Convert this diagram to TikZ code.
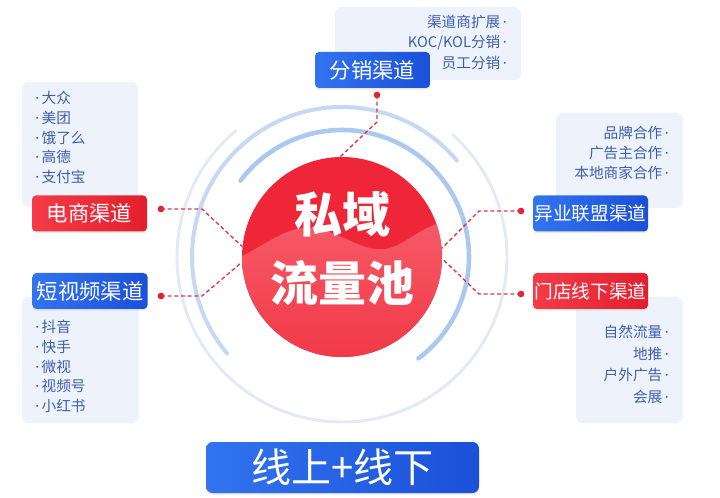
\documentclass[tikz,border=0pt]{standalone}
\usepackage{fontspec}
\setmainfont{Noto Sans CJK SC}
\newfontfamily\dotfont{Noto Sans}
\newcommand{\dt}{{\dotfont\char"00B7}}
\usetikzlibrary{shadows}
\definecolor{panelc}{HTML}{EDF2FB}
\definecolor{itemc}{HTML}{3F5FAE}
\definecolor{bluea}{HTML}{3274EF}
\definecolor{blueb}{HTML}{1B50D8}
\definecolor{reda}{HTML}{F43B48}
\definecolor{redb}{HTML}{E31F2D}
\definecolor{dotred}{HTML}{E0202E}
\definecolor{linered}{HTML}{D93A48}
\definecolor{ringa}{HTML}{E2EAF8}
\definecolor{ringb}{HTML}{C6D9F4}
\definecolor{ringc}{HTML}{ABC8EF}
\definecolor{circa}{HTML}{EF2638}
\definecolor{circb}{HTML}{F65A67}
\definecolor{circc}{HTML}{F13545}
\begin{document}
\begin{tikzpicture}[x=0.75pt,y=-0.75pt,
 boxbase/.style={rounded corners=3pt, minimum width=86.25pt, minimum height=27pt, inner sep=0pt, text=white, drop shadow={opacity=0.18, shadow xshift=0pt, shadow yshift=-1.2pt}},
 bluebox/.style={boxbase, left color=bluea, right color=blueb},
 redbox/.style={boxbase, left color=reda, right color=redb},
 lbl/.style={font=\fontsize{16}{18}\selectfont},
 lbls/.style={font=\fontsize{14}{16}\selectfont},
 item/.style={inner sep=0pt, text=itemc, font=\fontsize{11}{13}\selectfont},
 panel/.style={fill=panelc, rounded corners=5pt},
 conn/.style={draw=linered, line width=1pt, dash pattern=on 3pt off 2pt},
 rdot/.style={circle, fill=dotred, inner sep=0pt, minimum size=5pt},
 ring/.style={line cap=round},
]
\useasboundingbox (0,0) rectangle (720,498);
\fill[white] (0,0) rectangle (720,498);

% rings
\coordinate (o) at (342,257);
\draw[ring, draw=ringa, line width=2.2pt] (o) ++(130:123.75pt) arc[start angle=130, end angle=408, radius=123.75pt];
\draw[ring, draw=ringb, line width=3pt] (o) ++(40:112.5pt) arc[start angle=40, end angle=220, radius=112.5pt];
\draw[ring, draw=ringc, line width=3.4pt] (o) ++(-53:95.25pt) arc[start angle=-53, end angle=143, radius=95.25pt];

% central circle
\node[circle, minimum size=150pt, inner sep=0pt, fill=circa] (c) at (o) {};
\begin{scope}
\clip (o) circle[radius=75pt];
\shade[top color=circb, bottom color=circc]
  (230,262) .. controls (262,248) and (285,226) .. (310,228)
  .. controls (340,230) and (360,252) .. (385,249)
  .. controls (405,246) and (420,226) .. (450,220)
  -- (450,372) -- (230,372) -- cycle;
\end{scope}
\node[text=white, font=\fontsize{36}{40}\selectfont\bfseries] (t1) at (342,214) {私域};
\node[text=white, font=\fontsize{36}{40}\selectfont\bfseries] (t2) at (342,283) {流量池};

% panels
\fill[panel] (335,7) rectangle (521,80);
\fill[panel] (22,82) rectangle (138,207);
\fill[panel] (22,297) rectangle (139,423);
\fill[panel] (556,113) rectangle (683,208);
\fill[panel] (576,297) rectangle (683,423);

% items
\foreach \t [count=\i] in {渠道商扩展, KOC/KOL分销, 员工分销}
  \node[item, anchor=east] (fx\i) at (507, 22+20.5*\i-20.5) {\t\,\dt};
\foreach \t [count=\i] in {大众, 美团, 饿了么, 高德, 支付宝}
  \node[item, anchor=west] (ds\i) at (35, 98+19.8*\i-19.8) {\dt\,\t};
\foreach \t [count=\i] in {抖音, 快手, 微视, 视频号, 小红书}
  \node[item, anchor=west] (dsp\i) at (35, 327+19.8*\i-19.8) {\dt\,\t};
\foreach \t [count=\i] in {品牌合作, 广告主合作, 本地商家合作}
  \node[item, anchor=east] (yy\i) at (669, 133+20*\i-20) {\t\,\dt};
\foreach \t [count=\i] in {自然流量, 地推, 户外广告, 会展}
  \node[item, anchor=east] (md\i) at (669, 332+21.7*\i-21.7) {\t\,\dt};

% channel boxes
\node[bluebox, lbl] (fx) at (372.5,70) {分销渠道};
\node[redbox, lbl] (ds) at (89.5,213.5) {电商渠道};
\node[bluebox, lbl] (dsp) at (90,291) {短视频渠道};
\node[bluebox, lbls] (yy) at (590.5,213.5) {异业联盟渠道};
\node[redbox, lbls] (md) at (590.5,291) {门店线下渠道};

% bottom box
\node[boxbase, left color=bluea, right color=blueb, minimum width=204.75pt, minimum height=38.25pt, rounded corners=5pt, font=\fontsize{30}{34}\selectfont] (bt) at (342.5,467.5) {线上+线下};

% connectors
\node[rdot] (d1) at (377,95) {};
\node[rdot] (d2) at (161,209) {};
\node[rdot] (d3) at (161,296) {};
\node[rdot] (d4) at (521,211) {};
\node[rdot] (d5) at (521,294) {};
\draw[conn] (d1.center) -- (377,122) -- (c.91);
\draw[conn] (d2.center) -- (202,209) -- (c.174);
\draw[conn] (d3.center) -- (202,296) -- (c.183);
\draw[conn] (d4.center) -- (479,211) -- (c.5);
\draw[conn] (d5.center) -- (479,294) -- (c.-1);
\end{tikzpicture}
\end{document}
